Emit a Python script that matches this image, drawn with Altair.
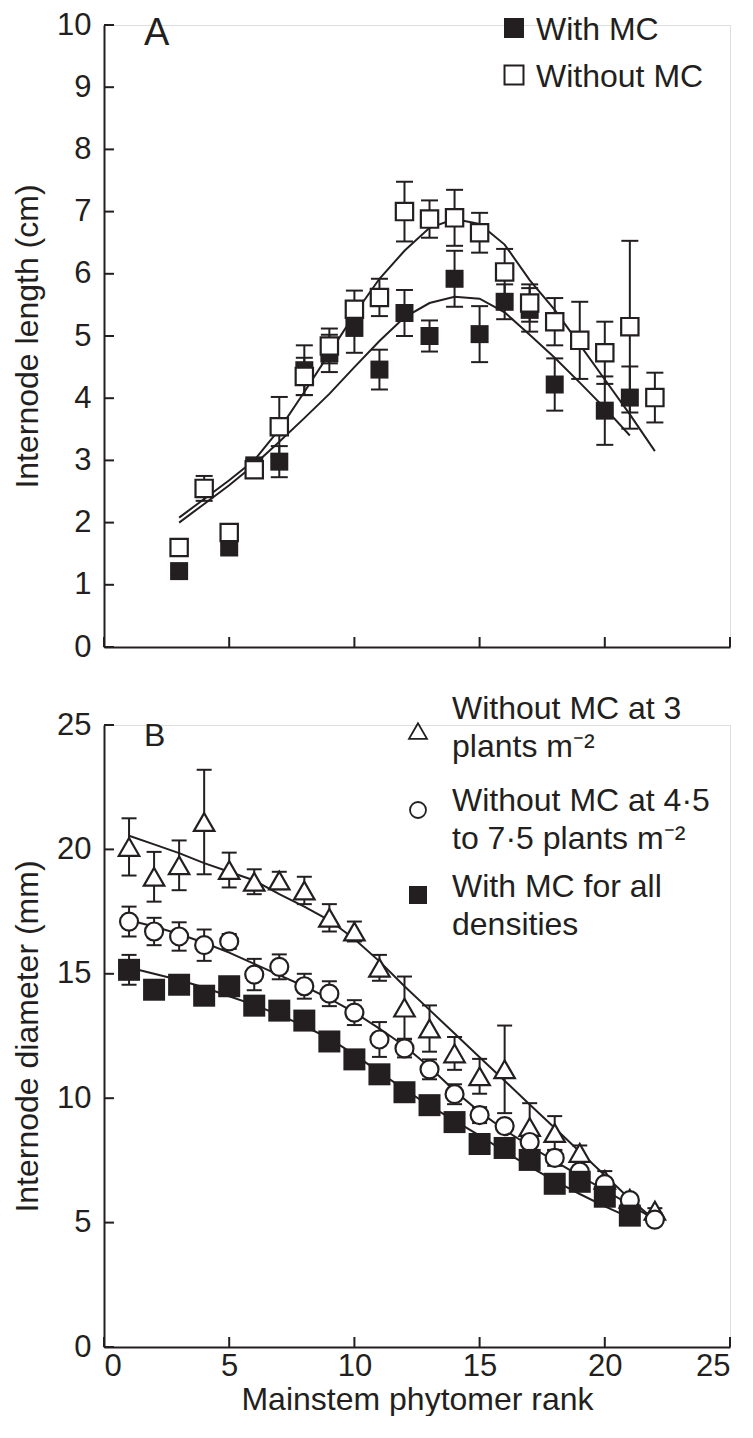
import altair as alt
import pandas as pd

FONT = "Liberation Sans"
INK = "#231f20"

# ---------------- Panel A: internode length ----------------
a_with_x = [3, 5, 6, 7, 8, 9, 10, 11, 12, 13, 14, 15, 16, 17, 18, 20, 21]
a_with_y = [1.22, 1.6, 2.92, 2.98, 4.45, 4.72, 5.13, 4.46, 5.37, 5.0, 5.92, 5.03, 5.55, 5.42, 4.22, 3.8, 4.01]
a_with_err = [0.06, 0.05, 0.1, 0.25, 0.4, 0.3, 0.4, 0.32, 0.37, 0.25, 0.45, 0.45, 0.28, 0.35, 0.42, 0.55, 0.5]

a_without_x = [3, 4, 5, 6, 7, 8, 9, 10, 11, 12, 13, 14, 15, 16, 17, 18, 19, 20, 21, 22]
a_without_y = [1.6, 2.55, 1.84, 2.85, 3.54, 4.35, 4.84, 5.43, 5.62, 7.0, 6.88, 6.9, 6.66, 6.03, 5.53, 5.23, 4.93, 4.73, 5.15, 4.01]
a_without_err = [0.05, 0.2, 0.05, 0.1, 0.48, 0.3, 0.28, 0.3, 0.3, 0.48, 0.3, 0.45, 0.32, 0.37, 0.3, 0.38, 0.62, 0.5, 1.38, 0.4]

a_fit_with_x = [3, 4, 5, 6, 7, 8, 9, 10, 11, 12, 13, 14, 15, 16, 17, 18, 19, 20, 21]
a_fit_with_y = [2.0, 2.3, 2.6, 2.93, 3.3, 3.68, 4.07, 4.5, 4.92, 5.3, 5.53, 5.63, 5.6, 5.38, 5.02, 4.65, 4.25, 3.84, 3.4]
a_fit_without_x = [3, 4, 5, 6, 7, 8, 9, 10, 11, 12, 13, 14, 15, 16, 17, 18, 19, 20, 21, 22]
a_fit_without_y = [2.08, 2.38, 2.68, 3.0, 3.5, 4.1, 4.72, 5.35, 5.92, 6.37, 6.74, 6.88, 6.8, 6.47, 5.9, 5.42, 4.86, 4.3, 3.74, 3.15]

a_yticks = [0, 1, 2, 3, 4, 5, 6, 7, 8, 9, 10]
a_legend = ["With MC", "Without MC"]

# ---------------- Panel B: internode diameter ----------------
b_tri_x = list(range(1, 23))
b_tri_y = [20.1, 18.9, 19.36, 21.1, 19.17, 18.7, 18.75, 18.35, 17.25, 16.7, 15.24, 13.64, 12.8, 11.8, 10.88, 11.16, 8.84, 8.6, 7.8, 6.72, 5.96, 5.48]
b_tri_err = [1.15, 1.0, 1.0, 2.1, 0.7, 0.5, 0.35, 0.55, 0.55, 0.4, 0.52, 1.25, 0.93, 0.66, 0.7, 1.76, 0.96, 0.68, 0.3, 0.35, 0.15, 0.1]

b_cir_x = list(range(1, 23))
b_cir_y = [17.1, 16.7, 16.5, 16.15, 16.3, 14.97, 15.28, 14.5, 14.2, 13.44, 12.36, 12.0, 11.16, 10.16, 9.32, 8.88, 8.24, 7.6, 7.05, 6.55, 5.9, 5.12]
b_cir_err = [0.6, 0.55, 0.57, 0.63, 0.3, 0.63, 0.5, 0.5, 0.5, 0.5, 0.7, 0.36, 0.4, 0.4, 0.32, 0.2, 0.2, 0.32, 0.2, 0.2, 0.15, 0.1]

b_sq_x = list(range(1, 22))
b_sq_y = [15.16, 14.36, 14.56, 14.12, 14.5, 13.72, 13.52, 13.12, 12.28, 11.56, 10.96, 10.24, 9.72, 9.04, 8.16, 8.0, 7.52, 6.56, 6.64, 6.04, 5.28]
b_sq_err = [0.6, 0.3, 0.3, 0.3, 0.3, 0.3, 0.3, 0.3, 0.3, 0.3, 0.3, 0.3, 0.3, 0.3, 0.3, 0.3, 0.3, 0.3, 0.3, 0.3, 0.3]

b_fit_tri_x = list(range(1, 23))
b_fit_tri_y = [20.55, 20.2, 19.85, 19.45, 19.1, 18.75, 18.2, 17.7, 17.15, 16.4, 15.5, 14.5, 13.55, 12.6, 11.65, 10.7, 9.75, 8.8, 7.85, 6.9, 5.95, 5.1]
b_fit_cir_x = list(range(1, 23))
b_fit_cir_y = [17.15, 16.9, 16.6, 16.25, 15.85, 15.4, 14.95, 14.5, 14.0, 13.45, 12.8, 12.1, 11.25, 10.3, 9.45, 8.72, 8.08, 7.47, 6.88, 6.3, 5.72, 5.12]
b_fit_sq_x = list(range(1, 22))
b_fit_sq_y = [15.25, 15.0, 14.75, 14.45, 14.1, 13.75, 13.35, 12.9, 12.4, 11.75, 11.05, 10.35, 9.7, 9.1, 8.5, 7.85, 7.25, 6.68, 6.15, 5.65, 5.2]

b_yticks = [0, 5, 10, 15, 20, 25]
b_legend = ["Without MC at 3\nplants m\u207b\u00b2",
            "Without MC at 4\u00b75\nto 7\u00b75 plants m\u207b\u00b2",
            "With MC for all\ndensities"]

x_ticks = [0, 5, 10, 15, 20, 25]
x_title = "Mainstem phytomer rank"

# ---------------- helpers ----------------
W, H = 626, 622
XS = alt.Scale(domain=[0, 25], nice=False, zero=False)


def X(field="x"):
    return alt.X(f"{field}:Q", scale=XS)


def pts_df(xs, ys, errs):
    return pd.DataFrame({"x": xs, "y": ys,
                         "lo": [y - e for y, e in zip(ys, errs)],
                         "hi": [y + e for y, e in zip(ys, errs)]})


def line_layer(xs, ys, ys_scale, axis_x=None, axis_y=None):
    df = pd.DataFrame({"x": xs, "y": ys})
    if axis_x is not None:
        xenc = alt.X("x:Q", scale=XS, axis=axis_x)
        yenc = alt.Y("y:Q", scale=ys_scale, axis=axis_y)
    else:
        xenc = alt.X("x:Q", scale=XS)
        yenc = alt.Y("y:Q", scale=ys_scale)
    return alt.Chart(df).mark_line(color=INK, strokeWidth=2).encode(x=xenc, y=yenc)


def err_layers(df, ys_scale, cap):
    rule = alt.Chart(df).mark_rule(color=INK, strokeWidth=2).encode(
        x=X(), y=alt.Y("lo:Q", scale=ys_scale), y2="hi:Q")
    caps = alt.Chart(df).transform_fold(["lo", "hi"], as_=["k", "v"]).mark_tick(
        orient="horizontal", size=cap, thickness=2, color=INK, opacity=1).encode(
        x=X(), y=alt.Y("v:Q", scale=ys_scale))
    return [rule, caps]


def point_layer(df, ys_scale, shape, size, filled_black):
    if filled_black:
        mark = alt.Chart(df).mark_point(shape=shape, size=size, filled=True, fill=INK,
                                        strokeWidth=0, opacity=1)
    else:
        mark = alt.Chart(df).mark_point(shape=shape, size=size, filled=True, fill="white",
                                        stroke=INK, strokeWidth=2.2, opacity=1, fillOpacity=1)
    return mark.encode(x=X(), y=alt.Y("y:Q", scale=ys_scale))


def inward_ticks(yvals, ys_scale, xvals):
    ydf = pd.DataFrame({"t": yvals})
    xdf = pd.DataFrame({"t": xvals})
    yt = alt.Chart(ydf).mark_tick(orient="horizontal", size=10, thickness=2, color=INK,
                                  opacity=1).encode(
        y=alt.Y("t:Q", scale=ys_scale), x=alt.value(5))
    xt = alt.Chart(xdf).mark_tick(orient="vertical", size=10, thickness=2, color=INK,
                                  opacity=1).encode(
        x=X("t"), y=alt.value(H - 5))
    return [yt, xt]


def text_layer(label, px, py, size, base="alphabetic", lh=38):
    df = pd.DataFrame({"label": [label]})
    return alt.Chart(df).mark_text(font=FONT, fontSize=size, color=INK, align="left",
                                   baseline=base, lineBreak="\n", lineHeight=lh).encode(
        x=alt.value(px), y=alt.value(py), text="label:N")


def legend_symbol(px, py, shape, size, filled_black, sw=2.0):
    df = pd.DataFrame({"k": [shape]})
    if filled_black:
        m = alt.Chart(df).mark_point(shape=shape, size=size, filled=True, fill=INK,
                                     strokeWidth=0, opacity=1)
    else:
        m = alt.Chart(df).mark_point(shape=shape, size=size, filled=True, fill="white",
                                     stroke=INK, strokeWidth=sw, opacity=1)
    return m.encode(x=alt.value(px), y=alt.value(py))


def y_axis(values, title):
    return alt.Axis(values=values, format="d", ticks=False, grid=False, domainColor=INK,
                    domainWidth=2, labelFont=FONT, labelFontSize=31, labelColor=INK,
                    labelPadding=13, title=title, titleFont=FONT, titleFontSize=32,
                    titleFontWeight="normal", titleColor=INK, titlePadding=12)


# ---------------- Panel A ----------------
YA = alt.Scale(domain=[0, 10], nice=False, zero=False)
axA_x = alt.Axis(values=x_ticks, ticks=False, grid=False, labels=False, title="",
                 domainColor=INK, domainWidth=2)

dfA_with = pts_df(a_with_x, a_with_y, a_with_err)
dfA_without = pts_df(a_without_x, a_without_y, a_without_err)

layersA = [line_layer(a_fit_without_x, a_fit_without_y, YA, axA_x,
                      y_axis(a_yticks, "Internode length (cm)")),
           line_layer(a_fit_with_x, a_fit_with_y, YA)]
layersA += err_layers(dfA_with, YA, 17)
layersA += err_layers(dfA_without, YA, 17)
layersA += [point_layer(dfA_with, YA, "square", 324, True),
            point_layer(dfA_without, YA, "square", 300, False)]
layersA += inward_ticks(a_yticks, YA, x_ticks)
layersA += [text_layer("A", 40, 20, 38),
            legend_symbol(410, 3, "square", 400, True),
            legend_symbol(410, 50, "square", 360, False),
            text_layer(a_legend[0], 432, 15, 32),
            text_layer(a_legend[1], 432, 62, 32)]

panelA = alt.layer(*layersA).properties(width=W, height=H)

# ---------------- Panel B ----------------
YB = alt.Scale(domain=[0, 25], nice=False, zero=False)
axB_x = alt.Axis(values=x_ticks, format="d", ticks=False, grid=False, title=x_title,
                 domainColor=INK, domainWidth=2,
                 labelFont=FONT, labelFontSize=31, labelColor=INK, labelPadding=4,
                 titleFont=FONT, titleFontSize=32, titleFontWeight="normal",
                 titleColor=INK, titlePadding=3)

dfB_tri = pts_df(b_tri_x, b_tri_y, b_tri_err)
dfB_cir = pts_df(b_cir_x, b_cir_y, b_cir_err)
dfB_sq = pts_df(b_sq_x, b_sq_y, b_sq_err)

layersB = [line_layer(b_fit_tri_x, b_fit_tri_y, YB, axB_x,
                      y_axis(b_yticks, "Internode diameter (mm)")),
           line_layer(b_fit_cir_x, b_fit_cir_y, YB),
           line_layer(b_fit_sq_x, b_fit_sq_y, YB)]
layersB += err_layers(dfB_tri, YB, 15)
layersB += err_layers(dfB_cir, YB, 15)
layersB += err_layers(dfB_sq, YB, 15)
layersB += [point_layer(dfB_tri, YB, "triangle-up", 420, False),
            point_layer(dfB_cir, YB, "circle", 324, False),
            point_layer(dfB_sq, YB, "square", 484, True)]
layersB += inward_ticks(b_yticks, YB, x_ticks)
layersB += [text_layer("B", 40, 21, 32),
            legend_symbol(314, 6, "triangle-up", 324, False, 1.8),
            legend_symbol(314, 85, "circle", 256, False, 1.8),
            legend_symbol(314, 170, "square", 324, True),
            text_layer(b_legend[0], 348, -6, 32),
            text_layer(b_legend[1], 348, 86, 32),
            text_layer(b_legend[2], 348, 172, 32)]

panelB = alt.layer(*layersB).properties(width=W, height=H)

chart = alt.vconcat(panelA, panelB, spacing=78, bounds="flush").resolve_scale(
    x="independent", y="independent").properties(
    padding={"left": 3, "top": 0, "right": 0, "bottom": 0}
).configure_view(stroke="transparent").configure(background="white")

chart.save("out.html", embed_options={"renderer": "svg", "actions": False})
